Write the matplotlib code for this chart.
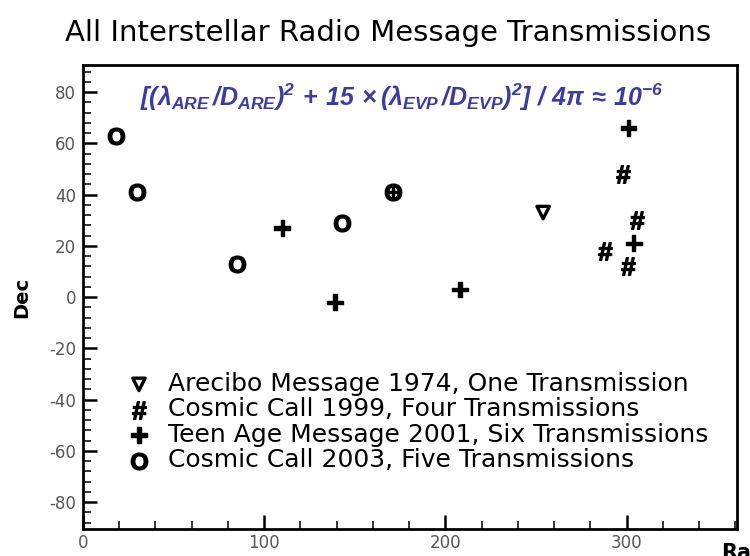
import matplotlib
matplotlib.use("Agg")
import matplotlib.pyplot as plt

plt.rcParams['font.family'] = ['DejaVu Sans']
plt.rcParams['axes.unicode_minus'] = False
plt.rcParams['mathtext.fontset'] = 'custom'
plt.rcParams['mathtext.it'] = 'Liberation Sans:italic:bold'
plt.rcParams['mathtext.rm'] = 'Liberation Sans:italic:bold'
plt.rcParams['mathtext.bf'] = 'Liberation Sans:bold'

# Data (Ra, Dec)
arecibo_ra = [254]
arecibo_dec = [33]
cc1999_ra = [298, 306, 288, 301]
cc1999_dec = [48, 30, 18, 12]
teen_ra = [110, 139, 171, 208, 301, 304]
teen_dec = [27, -2, 41, 3, 66, 21]
cc2003_ra = [18, 30, 85, 143, 171]
cc2003_dec = [63, 41, 13, 29, 41]

labels = ["Arecibo Message 1974, One Transmission",
          "Cosmic Call 1999, Four Transmissions",
          "Teen Age Message 2001, Six Transmissions",
          "Cosmic Call 2003, Five Transmissions"]

fig = plt.figure(figsize=(7.5, 5.56), dpi=100)
ax = fig.add_axes([0.1107, 0.0486, 0.872, 0.834])

# where a Teen Age target coincides with a Cosmic Call 2003 one, draw a smaller plus inside the O
shared = set(zip(cc2003_ra, cc2003_dec))
teen_sizes = [45 if p in shared else 130 for p in zip(teen_ra, teen_dec)]

h1 = ax.scatter(arecibo_ra, arecibo_dec, marker='v', s=80, facecolors='none',
                edgecolors='black', linewidths=2.4, label=labels[0])
h2 = ax.scatter(cc1999_ra, cc1999_dec, marker=r'$\mathbf{\#}$', s=160, c='black', label=labels[1])
h4 = ax.scatter(cc2003_ra, cc2003_dec, marker=r'$\mathbf{O}$', s=145, c='black', label=labels[3])
h3 = ax.scatter(teen_ra, teen_dec, marker=r'$\mathbf{+}$', s=teen_sizes, c='black', label=labels[2])
h3_legend = ax.scatter([], [], marker=r'$\mathbf{+}$', s=130, c='black', label=labels[2])

ax.set_xlim(0, 361)
ax.set_ylim(-90.5, 90.5)
ax.set_xticks([0, 100, 200, 300])
ax.set_yticks(range(-80, 81, 20))
ax.set_xticks(range(0, 361, 20), minor=True)
ax.set_yticks(range(-88, 89, 4), minor=True)
ax.tick_params(which='both', direction='in', colors='black', labelcolor='#555555', labelsize=12)
ax.tick_params(which='major', length=10, width=1.8)
ax.tick_params(which='minor', length=6, width=1.1)
ax.tick_params(axis='y', pad=5)
for sp in ax.spines.values():
    sp.set_linewidth(2)

ax.set_ylabel('Dec', fontsize=14, fontweight='bold', labelpad=13)
ax.text(0.975, -0.052, 'Ra', transform=ax.transAxes, fontsize=15, fontweight='bold',
        ha='left', va='center', clip_on=False)

fig.suptitle('All Interstellar Radio Message Transmissions', fontsize=21, x=0.517, y=0.965)

ax.text(0.488, 0.931,
        r'$[(\lambda_{ARE}\,/D_{ARE})^2\,+\,15\,\times(\lambda_{EVP}\,/D_{EVP})^2]\ /\ 4\pi\,\approx\,10^{-6}$',
        transform=ax.transAxes, ha='center', va='center', fontsize=18, color='#3c3ca0')

ax.legend(handles=[h1, h2, h3_legend, h4], loc='lower left', bbox_to_anchor=(0.053, 0.095),
          frameon=False, fontsize=18, handletextpad=0.8, labelspacing=0.06,
          handlelength=0.7, borderpad=0)

fig.savefig('out.png', dpi=100)
